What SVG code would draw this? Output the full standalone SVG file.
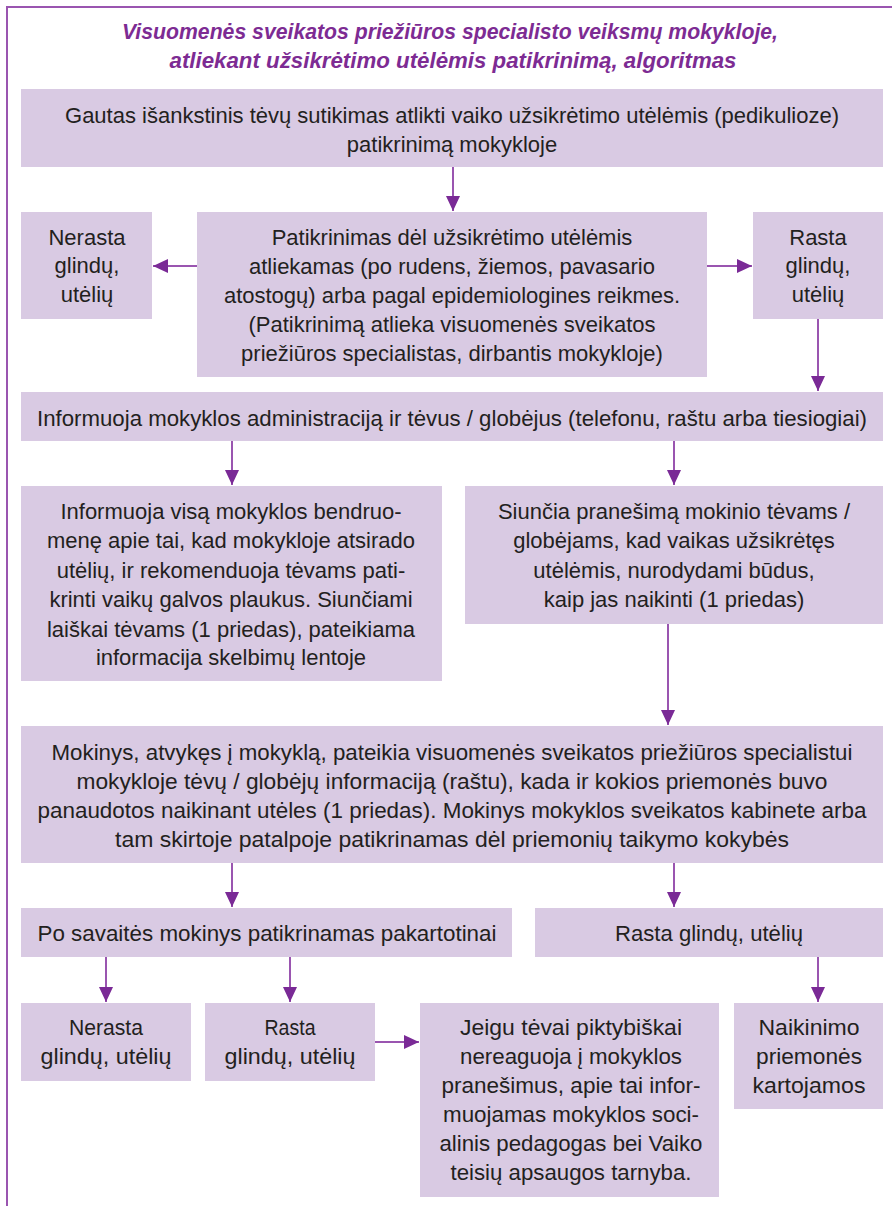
<svg xmlns="http://www.w3.org/2000/svg" width="892" height="1206" viewBox="0 0 892 1206">
<style>
.box{fill:#d9cae3}
.t{font-family:"Liberation Sans",Arial,sans-serif;font-size:22px;fill:#231f20;text-anchor:middle}
.c{font-family:"Liberation Sans",Arial,sans-serif;font-size:22px;fill:#231f20;text-anchor:middle}
.title{font-family:"Liberation Sans",Arial,sans-serif;font-size:22px;font-weight:bold;font-style:italic;fill:#7d2b93;text-anchor:middle}
.conn{stroke:#9a55b0;stroke-width:2;fill:none;marker-end:url(#ah)}
.frame{stroke:#9a55b0;stroke-width:2;fill:none}
</style>
<defs>
<marker id="ah" markerUnits="userSpaceOnUse" markerWidth="16" markerHeight="14" refX="15" refY="7" orient="auto">
<path d="M0,0 L15,7 L0,14 Z" fill="#7a2a96"/>
</marker>
</defs>
<rect width="892" height="1206" fill="#ffffff"/>
<path class="frame" d="M7,1206 V7 H892"/>
<g id="title">
<text class="title" x="450" y="39" textLength="656" lengthAdjust="spacingAndGlyphs">Visuomenės sveikatos priežiūros specialisto veiksmų mokykloje,</text>
<text class="title" x="453" y="68" textLength="567" lengthAdjust="spacingAndGlyphs">atliekant užsikrėtimo utėlėmis patikrinimą, algoritmas</text>
</g>
<g id="n1">
<rect class="box" x="21" y="89" width="862" height="78"/>
<text class="t" x="452" y="123">Gautas išankstinis tėvų sutikimas atlikti vaiko užsikrėtimo utėlėmis (pedikulioze)</text>
<text class="t" x="452" y="152">patikrinimą mokykloje</text>
</g>
<g id="n2">
<rect class="box" x="21" y="212" width="131" height="107"/>
<text class="t" x="87" y="245">Nerasta</text>
<text class="t" x="87" y="273">glindų,</text>
<text class="t" x="87" y="302">utėlių</text>
</g>
<g id="n3">
<rect class="box" x="197" y="212" width="510" height="165"/>
<text class="t" x="452" y="245">Patikrinimas dėl užsikrėtimo utėlėmis</text>
<text class="t" x="452" y="274">atliekamas (po rudens, žiemos, pavasario</text>
<text class="t" x="452" y="303">atostogų) arba pagal epidemiologines reikmes.</text>
<text class="t" x="452" y="332">(Patikrinimą atlieka visuomenės sveikatos</text>
<text class="t" x="452" y="361">priežiūros specialistas, dirbantis mokykloje)</text>
</g>
<g id="n4">
<rect class="box" x="753" y="212" width="130" height="107"/>
<text class="t" x="818" y="245">Rasta</text>
<text class="t" x="818" y="273">glindų,</text>
<text class="t" x="818" y="302">utėlių</text>
</g>
<g id="n5">
<rect class="box" x="21" y="392" width="862" height="49"/>
<text class="t" x="452" y="426" textLength="830" lengthAdjust="spacingAndGlyphs">Informuoja mokyklos administraciją ir tėvus / globėjus (telefonu, raštu arba tiesiogiai)</text>
</g>
<g id="n6">
<rect class="box" x="21" y="486" width="421" height="195"/>
<text class="t" x="231" y="519">Informuoja visą mokyklos bendruo-</text>
<text class="t" x="231" y="548">menę apie tai, kad mokykloje atsirado</text>
<text class="t" x="231" y="578">utėlių, ir rekomenduoja tėvams pati-</text>
<text class="t" x="231" y="607">krinti vaikų galvos plaukus. Siunčiami</text>
<text class="t" x="231" y="637">laiškai tėvams (1 priedas), pateikiama</text>
<text class="t" x="231" y="665">informacija skelbimų lentoje</text>
</g>
<g id="n7">
<rect class="box" x="465" y="486" width="418" height="138"/>
<text class="t" x="674" y="519">Siunčia pranešimą mokinio tėvams /</text>
<text class="t" x="674" y="548">globėjams, kad vaikas užsikrėtęs</text>
<text class="t" x="674" y="578">utėlėmis, nurodydami būdus,</text>
<text class="t" x="674" y="607">kaip jas naikinti  (1 priedas)</text>
</g>
<g id="n8">
<rect class="box" x="21" y="726" width="862" height="137"/>
<text class="c" x="452" y="760" textLength="801" lengthAdjust="spacingAndGlyphs">Mokinys, atvykęs į mokyklą, pateikia visuomenės sveikatos priežiūros specialistui</text>
<text class="c" x="452" y="789" textLength="751" lengthAdjust="spacingAndGlyphs">mokykloje tėvų / globėjų informaciją (raštu), kada ir kokios priemonės buvo</text>
<text class="c" x="452" y="818" textLength="829" lengthAdjust="spacingAndGlyphs">panaudotos naikinant utėles (1 priedas). Mokinys mokyklos sveikatos kabinete arba</text>
<text class="c" x="452" y="847" textLength="674" lengthAdjust="spacingAndGlyphs">tam skirtoje patalpoje patikrinamas dėl priemonių taikymo kokybės</text>
</g>
<g id="n9">
<rect class="box" x="21" y="908" width="491" height="49"/>
<text class="c" x="267" y="941" textLength="459" lengthAdjust="spacingAndGlyphs">Po savaitės mokinys patikrinamas pakartotinai</text>
</g>
<g id="n10">
<rect class="box" x="535" y="908" width="348" height="49"/>
<text class="c" x="709" y="941" textLength="188" lengthAdjust="spacingAndGlyphs">Rasta glindų, utėlių</text>
</g>
<g id="n11">
<rect class="box" x="21" y="1003" width="170" height="78"/>
<text class="c" x="106" y="1035" textLength="74" lengthAdjust="spacingAndGlyphs">Nerasta</text>
<text class="c" x="106" y="1064" textLength="131" lengthAdjust="spacingAndGlyphs">glindų, utėlių</text>
</g>
<g id="n12">
<rect class="box" x="205" y="1003" width="170" height="78"/>
<text class="c" x="290" y="1035" textLength="51" lengthAdjust="spacingAndGlyphs">Rasta</text>
<text class="c" x="290" y="1064" textLength="131" lengthAdjust="spacingAndGlyphs">glindų, utėlių</text>
</g>
<g id="n13">
<rect class="box" x="420" y="1003" width="299" height="194"/>
<text class="c" x="571" y="1035" textLength="222" lengthAdjust="spacingAndGlyphs">Jeigu tėvai piktybiškai</text>
<text class="c" x="571" y="1064" textLength="222" lengthAdjust="spacingAndGlyphs">nereaguoja į mokyklos</text>
<text class="c" x="571" y="1093" textLength="259" lengthAdjust="spacingAndGlyphs">pranešimus, apie tai infor-</text>
<text class="c" x="571" y="1122" textLength="256" lengthAdjust="spacingAndGlyphs">muojamas mokyklos soci-</text>
<text class="c" x="571" y="1151" textLength="263" lengthAdjust="spacingAndGlyphs">alinis pedagogas bei Vaiko</text>
<text class="c" x="571" y="1180" textLength="241" lengthAdjust="spacingAndGlyphs">teisių apsaugos tarnyba.</text>
</g>
<g id="n14">
<rect class="box" x="734" y="1003" width="149" height="106"/>
<text class="c" x="809" y="1035" textLength="101" lengthAdjust="spacingAndGlyphs">Naikinimo</text>
<text class="c" x="809" y="1064" textLength="106" lengthAdjust="spacingAndGlyphs">priemonės</text>
<text class="c" x="809" y="1093" textLength="113" lengthAdjust="spacingAndGlyphs">kartojamos</text>
</g>
<g id="connectors">
<line class="conn" x1="453" y1="167" x2="453" y2="211"/>
<line class="conn" x1="197" y1="266" x2="153" y2="266"/>
<line class="conn" x1="707" y1="266" x2="752" y2="266"/>
<line class="conn" x1="818" y1="319" x2="818" y2="391"/>
<line class="conn" x1="232" y1="441" x2="232" y2="485"/>
<line class="conn" x1="674" y1="441" x2="674" y2="485"/>
<line class="conn" x1="668" y1="624" x2="668" y2="725"/>
<line class="conn" x1="232" y1="863" x2="232" y2="907"/>
<line class="conn" x1="674" y1="863" x2="674" y2="907"/>
<line class="conn" x1="106" y1="957" x2="106" y2="1002"/>
<line class="conn" x1="290" y1="957" x2="290" y2="1002"/>
<line class="conn" x1="818" y1="957" x2="818" y2="1002"/>
<line class="conn" x1="375" y1="1042" x2="419" y2="1042"/>
</g>
</svg>
